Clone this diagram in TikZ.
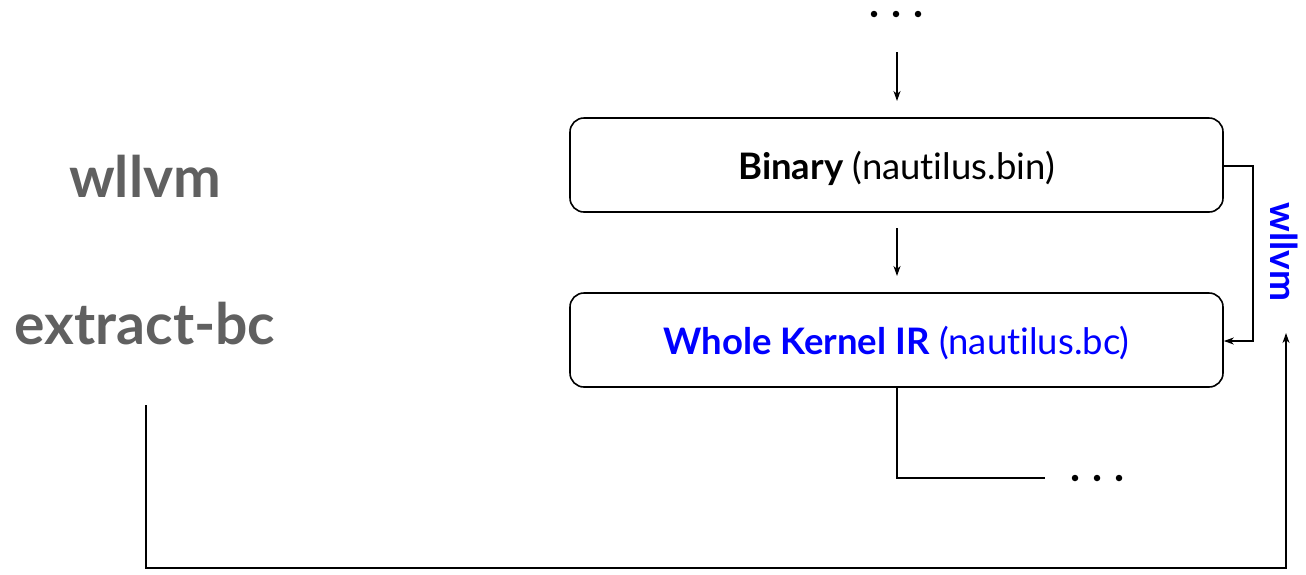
\documentclass[tikz,border=0pt]{standalone}
\usepackage{fontspec}
\setmainfont{Lato}[Ligatures=NoCommon]
\usetikzlibrary{arrows.meta}
\definecolor{lblgray}{HTML}{606060}
\definecolor{pblue}{HTML}{0000FF}
\begin{document}
\begin{tikzpicture}[x=1pt,y=-1pt,
  box/.style={draw,line width=1.6pt,rounded corners=14pt,minimum width=653pt,minimum height=94pt,inner sep=0pt,text depth=0pt,font=\fontsize{36.5}{42}\selectfont},
  conn/.style={line width=1.3pt},
  arr/.style={conn,-{Stealth[length=10pt,width=7pt,inset=3pt]}},
  dot/.style={circle,fill,inner sep=0pt,minimum size=6.5pt},
  side/.style={font=\fontsize{57}{64}\selectfont\bfseries,text=lblgray}]
\useasboundingbox (0,0) rectangle (1306,574);
% top dots
\node[dot] (t1) at (874,14) {};
\node[dot] (t2) at (896,14) {};
\node[dot] (t3) at (918,14) {};
\coordinate (tin) at (897,52);
\node[box] (bin) at (896.5,165) {\textbf{Binary} (nautilus.bin)};
\node[box,text=pblue] (ir) at (896.5,340) {\textbf{Whole Kernel IR} (nautilus.bc)};
\draw[arr] (tin) -- (897,101);
\draw[arr] (897,228) -- (897,276);
% wllvm loop
\draw[arr] ([yshift=-1pt]bin.east) -| (1253,341) -- (ir.east|-{(0,341)});
\node[rotate=-90,text=pblue,font=\fontsize{37}{42}\selectfont\bfseries] (wl) at (1284,252) {wllvm};
% bottom dots
\node[dot] (b1) at (1075,478) {};
\node[dot] (b2) at (1097,478) {};
\node[dot] (b3) at (1119,478) {};
\coordinate (bend) at (1045,478);
\draw[conn] (ir.south-|{(897,0)}) |- (bend);
% left labels
\node[side] (lw) at (145,176) {wllvm};
\node[side] (le) at (145,324) {extract-bc};
\coordinate (lstart) at (146,405);
\coordinate (rend) at (1286,333);
\draw[arr] (lstart) |- (1286,568) -- (rend);
\end{tikzpicture}
\end{document}
